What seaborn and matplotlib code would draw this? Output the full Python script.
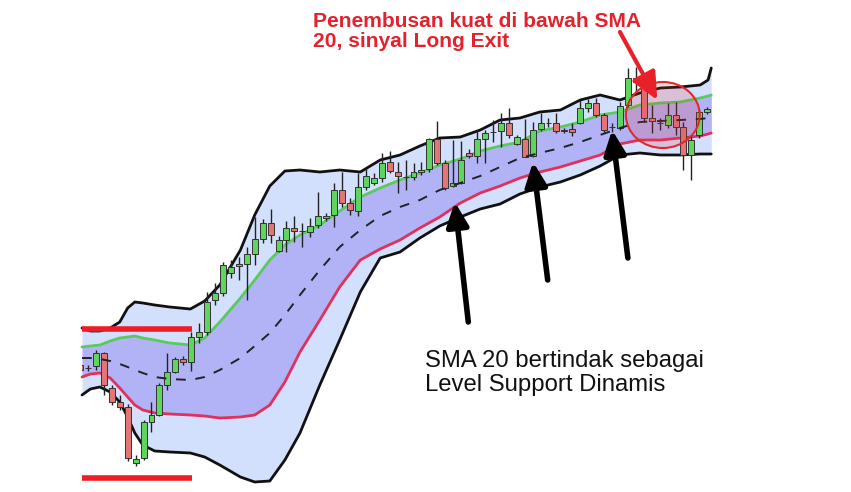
import numpy as np
import pandas as pd
import matplotlib
matplotlib.use("Agg")
import matplotlib.pyplot as plt
from matplotlib.patches import Ellipse, Rectangle
import seaborn as sns

# candle data (price units, one candle per bar index)
opens = [135, 132, 134, 147, 112, 98, 93, 37, 42, 78, 85, 115, 128, 141, 138, 163, 168, 200, 207, 227,
         234, 236, 246, 261, 277, 249, 260, 272, 269, 268, 275, 282, 285, 310, 297, 289, 313, 317, 322, 338,
         328, 323, 323, 328, 331, 361, 337, 314, 317, 347, 344, 361, 368, 369, 377, 356, 361, 344, 371, 377,
         377, 370, 371, 377, 392, 397, 385, 373, 372, 395, 422, 416, 382, 377, 375, 385, 373, 345, 365, 388]
highs = [138, 135, 150, 148, 115, 105, 96, 45, 80, 98, 117, 147, 143, 144, 168, 177, 208, 217, 238, 240,
         243, 253, 283, 281, 291, 264, 279, 284, 277, 282, 308, 287, 317, 328, 302, 327, 331, 327, 347, 349,
         338, 340, 337, 338, 362, 379, 340, 360, 359, 351, 370, 370, 380, 387, 392, 365, 381, 378, 387, 382,
         387, 372, 377, 400, 401, 402, 387, 377, 398, 432, 433, 418, 395, 382, 397, 398, 378, 365, 390, 393]
lows = [127, 129, 130, 105, 95, 90, 39, 34, 40, 68, 84, 110, 127, 135, 129, 157, 165, 195, 204, 222,
        220, 200, 235, 257, 257, 248, 248, 258, 253, 263, 272, 279, 273, 293, 285, 284, 310, 315, 318, 327,
        307, 310, 320, 325, 328, 335, 310, 313, 316, 342, 337, 337, 358, 353, 362, 355, 343, 343, 369, 373,
        367, 367, 364, 376, 388, 383, 368, 368, 370, 393, 408, 378, 367, 370, 372, 365, 330, 320, 362, 386]
closes = [130, 132, 147, 115, 98, 93, 42, 41, 78, 85, 115, 128, 141, 138, 163, 168, 198, 207, 235, 233,
          236, 246, 261, 277, 265, 260, 272, 269, 269, 274, 284, 284, 310, 297, 290, 313, 324, 322, 337, 329,
          324, 323, 328, 330, 361, 337, 312, 317, 340, 344, 361, 367, 368, 377, 365, 363, 343, 370, 377, 377,
          369, 369, 368, 392, 397, 385, 370, 373, 394, 422, 418, 382, 379, 377, 385, 373, 345, 360, 388, 391]

# band lines, sampled along the bar index
band_idx = [0.25, 1.3, 2.5, 3.8, 5.0, 6.0, 6.9, 7.9, 9.4, 11.3, 13.9, 15.7, 17.6, 20.2, 22.0, 23.9, 25.8, 27.7,
            30.2, 32.7, 35.3, 37.8, 40.3, 42.8, 45.3, 47.9, 50.4, 52.9, 55.4, 57.9, 60.5, 63.0, 65.5, 68.0,
            70.5, 73.1, 75.6, 78.1, 79.1, 79.5]
outer_upper = [172, 169, 169, 172, 178, 192, 198, 197, 195, 193, 191, 199, 215, 250, 285, 314, 329, 330,
               328, 330, 328, 340, 345, 354, 362, 363, 370, 380, 382, 388, 390, 400, 405, 400,
               407, 412, 413, 415, 420, 432]
inner_upper = [153, 154, 155, 159, 162, 163, 164, 162, 160, 157, 155, 162, 178, 202, 220, 240, 255, 265,
               275, 289, 303, 312, 320, 327, 335, 341, 349, 354, 358, 369, 373, 378, 385, 388,
               395, 397, 398, 402, 404, 405]
sma20 = [142, 142, 141, 139, 136, 133, 130, 127, 123, 121, 120, 123, 130, 142, 154, 167, 185, 205,
         230, 253, 270, 284, 293, 300, 310, 317, 324, 333, 342, 347, 352, 358, 365, 372,
         378, 379, 380, 381, 382, 382]
inner_lower = [123, 126, 127, 122, 112, 103, 95, 90, 87, 86, 85, 84, 82, 83, 85, 95, 118, 148,
               180, 213, 240, 251, 260, 272, 283, 297, 307, 314, 322, 328, 333, 339, 345, 356,
               360, 360, 362, 364, 366, 367]
outer_lower = [105, 111, 113, 108, 98, 83, 67, 55, 49, 48, 47, 43, 35, 23, 18, 19, 40, 67,
               115, 160, 208, 242, 248, 262, 274, 283, 291, 296, 306, 313, 318, 325, 334, 345,
               347, 345, 345, 346, 346, 346]

# horizontal levels on the left
levels = [171, 22]

title_red = "Penembusan kuat di bawah SMA\n20, sinyal Long Exit"
note_black = "SMA 20 bertindak sebagai\nLevel Support Dinamis"

sns.set_theme(style="white")
plt.rcParams["font.family"] = ["Liberation Sans", "DejaVu Sans"]

fig = plt.figure(figsize=(8.51, 4.92), dpi=100)
ax = fig.add_axes([0, 0, 1, 1])
ax.set_xlim(-10.08, 97.1)
ax.set_ylim(8, 500)
ax.axis("off")

bands = pd.DataFrame({"idx": band_idx, "upper": outer_upper, "green": inner_upper,
                      "mid": sma20, "red": inner_lower, "lower": outer_lower})

ax.fill_between(bands["idx"], bands["lower"], bands["upper"], color="#d3e0fd", lw=0, zorder=1)
ax.fill_between(bands["idx"], bands["red"], bands["green"], color="#b1b3f6", lw=0, zorder=1.5)
sns.lineplot(data=bands, x="idx", y="upper", color="#111111", lw=2, ax=ax, zorder=2)
sns.lineplot(data=bands, x="idx", y="lower", color="#111111", lw=2, ax=ax, zorder=2)
sns.lineplot(data=bands, x="idx", y="green", color="#5cc95c", lw=2, ax=ax, zorder=2)
sns.lineplot(data=bands, x="idx", y="red", color="#e0305c", lw=2, ax=ax, zorder=2)
sns.lineplot(data=bands, x="idx", y="mid", color="#222222", lw=1.4, ax=ax, zorder=4,
             linestyle=(0, (5, 5)))

# candles
cl = pd.DataFrame({"o": opens, "h": highs, "l": lows, "c": closes})
cl["i"] = np.arange(len(cl))
colors = np.where(cl["c"] >= cl["o"], "#5fd45f", "#e37575")
clip = Rectangle((0.25, 0), 79.25, 500, transform=ax.transData)

wicks = ax.vlines(cl["i"], cl["l"], cl["h"], color="#222222", lw=1, zorder=3)
wicks.set_clip_path(clip)
bodies = ax.bar(cl["i"], (cl["c"] - cl["o"]).abs(), bottom=np.minimum(cl["o"], cl["c"]),
                width=0.75, color=colors, edgecolor="#333333", lw=0.7, zorder=3.5)
for b in bodies:
    b.set_clip_path(clip)

ax.hlines(levels, 0.25, 14.1, color="#ee1c24", lw=4, zorder=5)

# annotations
circle = Ellipse((73.4, 385), 9.3, 66, facecolor=(0.93, 0.2, 0.2, 0.18),
                 edgecolor="#e02a2a", lw=1.5, zorder=6)
ax.add_patch(circle)

ax.annotate("", xy=(72.7, 400), xytext=(68.0, 468),
            arrowprops=dict(arrowstyle="-|>,head_length=0.75,head_width=0.35", color="#e8202a",
                            lw=3, mutation_scale=22, shrinkA=0, shrinkB=0), zorder=7)

for tip, tail in [((47.2, 298), (48.9, 178)), ((57.05, 338), (58.9, 220)), ((67.0, 370), (69.0, 242))]:
    ax.annotate("", xy=tip, xytext=tail,
                arrowprops=dict(arrowstyle="-|>,head_length=0.65,head_width=0.3", color="black",
                                lw=4, mutation_scale=22, shrinkA=0, shrinkB=0), zorder=7)

ax.text(29.3, 488, title_red, color="#e2222c", fontsize=15.1, fontweight="bold",
        va="top", ha="left", linespacing=1.05)
ax.text(43.45, 150, note_black, color="#111111", fontsize=17.2,
        va="top", ha="left", linespacing=1.1)

fig.savefig("out.png", dpi=100)
